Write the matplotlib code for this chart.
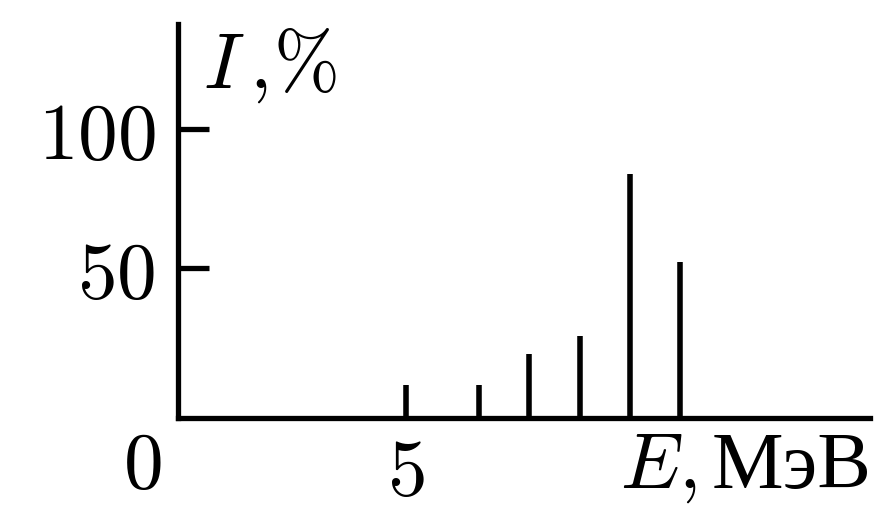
import matplotlib
matplotlib.use("Agg")
import matplotlib.pyplot as plt

# line spectrum: energy (MeV) and relative intensity (%)
energy = [5.0, 6.6, 7.7, 8.8, 9.9, 11.0]
intensity = [8.2, 8.2, 19.3, 25.8, 83.8, 52.3]
ytick_vals = [50, 100]
ytick_labels = ["$50$", "$100$"]
xtick_vals = [5]
xtick_labels = ["$5$"]

plt.rcParams['mathtext.fontset'] = 'cm'
W, H = 896, 512

fig = plt.figure(figsize=(W / 100, H / 100), dpi=100)
ax = fig.add_axes([177.5 / W, 1 - 418 / H, (870 - 177.5) / W, (418 - 24) / H])

ymin, ymax = -3.58, 137.4
ax.set_xlim(0, 15.15)
ax.set_ylim(ymin, ymax)

ax.vlines(energy, ymin, intensity, color="black", linewidth=4.0)

for s in ["top", "right"]:
    ax.spines[s].set_visible(False)
for s in ["left", "bottom"]:
    ax.spines[s].set_linewidth(3.8)
    ax.spines[s].set_capstyle("projecting")

ax.set_yticks(ytick_vals)
ax.set_yticklabels(ytick_labels, fontsize=57)
ax.set_xticks(xtick_vals)
ax.set_xticklabels(xtick_labels, fontsize=57)
ax.tick_params(axis="y", direction="in", length=22, width=3.8, pad=16)
ax.tick_params(axis="x", length=0, pad=12)

fig.text(142 / W, 1 - 488 / H, "$0$", fontsize=57, ha="center", va="baseline")
# axis names
fig.text(203 / W, 1 - 88 / H, r"$I\,,\!\%$", fontsize=57, ha="left", va="baseline")
fig.text(620 / W, 1 - 488 / H, "$E,$", fontsize=57, ha="left", va="baseline")
fig.text(712 / W, 1 - 488 / H, "МэВ", fontsize=58, ha="left", va="baseline",
         family=["Liberation Serif", "DejaVu Serif"])

fig.savefig("out.png", dpi=100)
